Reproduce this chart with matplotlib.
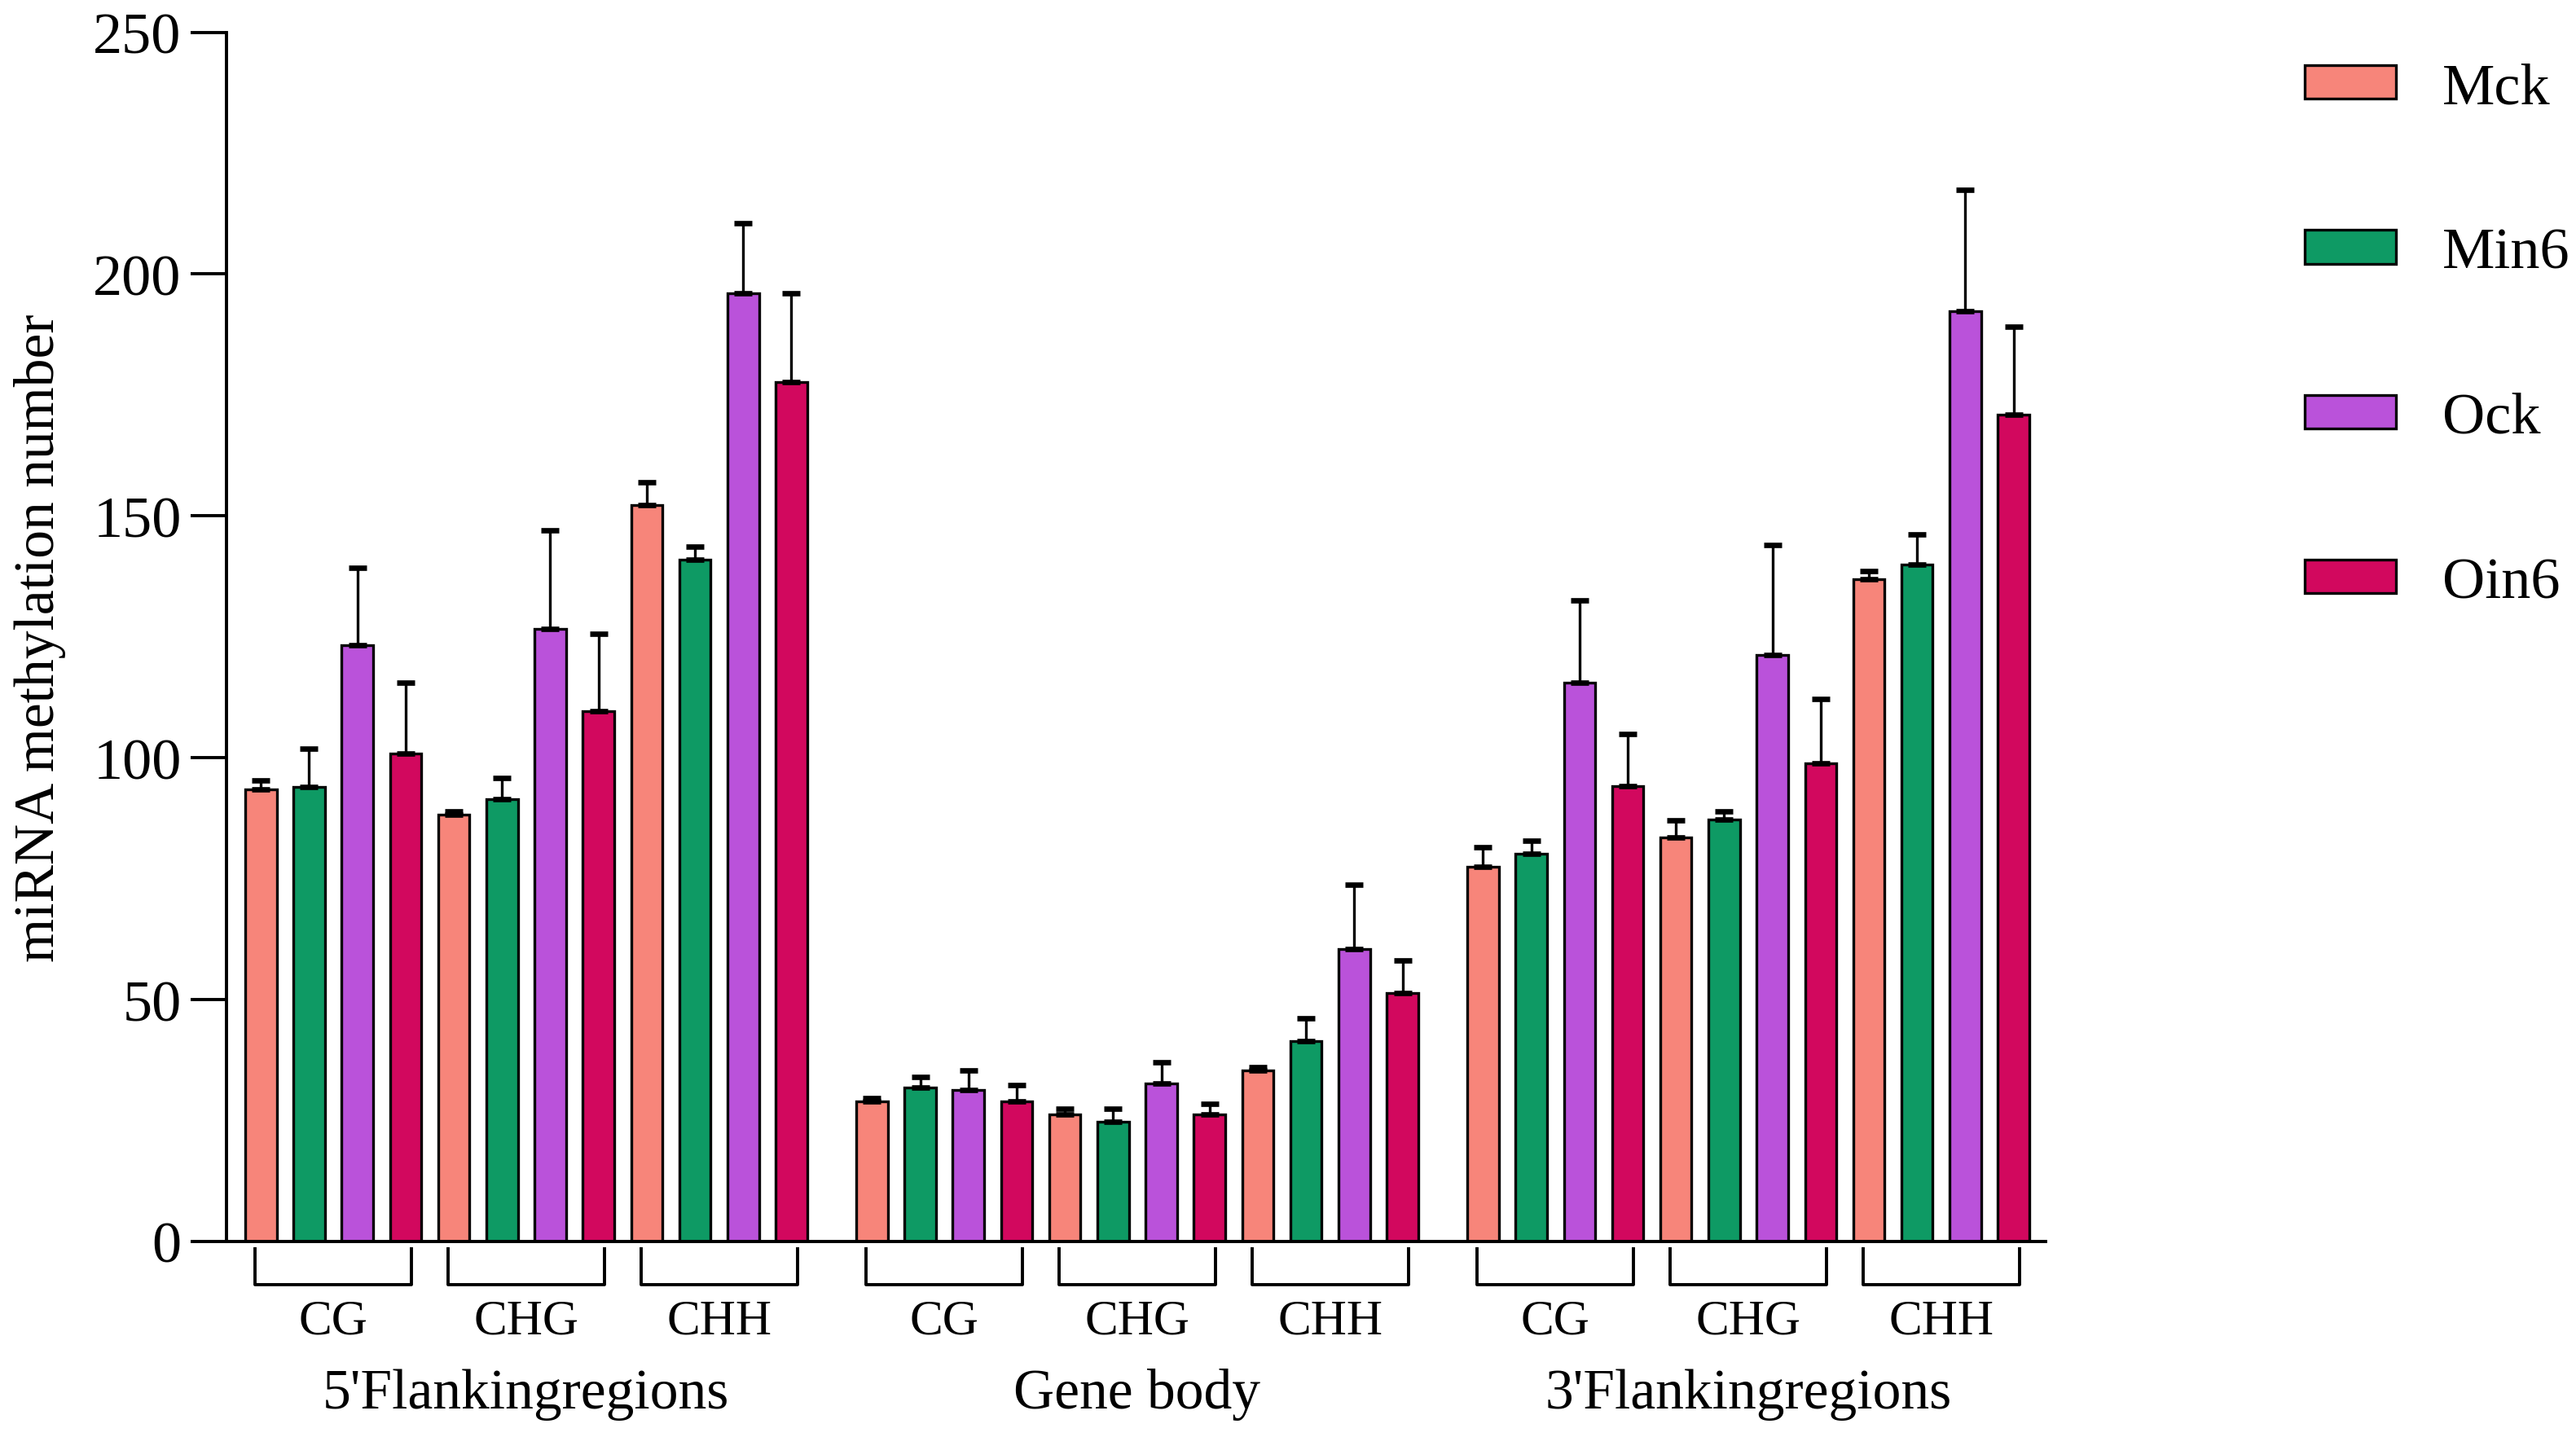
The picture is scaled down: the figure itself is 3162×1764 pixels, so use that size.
import numpy as np
import matplotlib
matplotlib.use("Agg")
import matplotlib.pyplot as plt
from matplotlib.patches import Patch

plt.rcParams['font.family'] = ['Liberation Serif', 'DejaVu Serif']

# données
regions = ["5'Flankingregions", "Gene body", "3'Flankingregions"]
contexts = ["CG", "CHG", "CHH"]
groups = ["Mck", "Min6", "Ock", "Oin6"]
colors = ["#F7857A", "#0E9A64", "#BA52DA", "#D2085E"]

# une ligne par groupe, 9 valeurs : (5' CG, CHG, CHH, gene CG, CHG, CHH, 3' CG, CHG, CHH)
mck = [93.4, 88.3, 152.2, 28.9, 26.2, 35.3, 77.4, 83.6, 136.9]
min6 = [94.0, 91.4, 141.0, 31.9, 24.8, 41.4, 80.2, 87.3, 140.0]
ock = [123.3, 126.7, 196.0, 31.3, 32.6, 60.5, 115.5, 121.3, 192.3]
oin6 = [100.9, 109.7, 177.6, 28.9, 26.2, 51.3, 94.1, 98.8, 170.9]

mck_err = [2.0, 0.7, 4.7, 0.7, 1.3, 0.7, 4.1, 3.4, 1.7]
min6_err = [7.9, 4.4, 2.7, 2.1, 2.7, 4.8, 2.7, 1.7, 6.1]
ock_err = [16.0, 20.4, 14.6, 4.0, 4.4, 13.2, 17.0, 22.7, 25.1]
oin6_err = [14.6, 16.0, 18.4, 3.4, 2.3, 6.8, 10.9, 13.3, 18.3]

values = [mck, min6, ock, oin6]
errors = [mck_err, min6_err, ock_err, oin6_err]

# positions des barres
region_step = 12.67
width = 0.65
centers = np.array([r * region_step + c * 4 for r in range(3) for c in range(3)], dtype=float)

fig = plt.figure(figsize=(15.81, 8.825), dpi=200)
ax = fig.add_axes([0.088, 0.136, 0.706, 0.841])

for g in range(4):
    x = centers + g
    ax.bar(x, values[g], width=width, color=colors[g], edgecolor="black",
           linewidth=1.2, zorder=2)
    ax.errorbar(x, values[g], yerr=[np.zeros(9), errors[g]], fmt="none",
                ecolor="black", elinewidth=1.2, capsize=4, capthick=2.4, zorder=3)

ax.set_xlim(-0.71, 37.0)
ax.set_ylim(0, 250)
ax.set_yticks([0, 50, 100, 150, 200, 250])
ax.tick_params(axis="y", labelsize=26, length=16, width=1.4, pad=4)
ax.set_xticks([])
for s in ["top", "right"]:
    ax.spines[s].set_visible(False)
ax.spines["left"].set_linewidth(1.4)
ax.spines["bottom"].set_linewidth(1.4)
ax.set_ylabel("miRNA methylation number", fontsize=25, labelpad=12)

# crochets et étiquettes sous l'axe
for i, c0 in enumerate(centers):
    xl, xr = c0 - 0.12, c0 + 3.12
    ax.plot([xl, xl, xr, xr], [-1.5, -9.0, -9.0, -1.5], color="black",
            linewidth=1.4, clip_on=False)
    ax.text(c0 + 1.5, -16.5, contexts[i % 3], ha="center", va="center", fontsize=22)

for r in range(3):
    ax.text(r * region_step + 5.5, -31.5, regions[r], ha="center", va="center",
            fontsize=25)

handles = [Patch(facecolor=colors[g], edgecolor="black", linewidth=1.2) for g in range(4)]
fig.legend(handles, groups, loc="upper left", bbox_to_anchor=(0.874, 0.993),
           frameon=False, fontsize=26, handlelength=1.55, handleheight=0.5,
           handletextpad=0.8, labelspacing=1.9)

fig.savefig("out.png", dpi=200)
